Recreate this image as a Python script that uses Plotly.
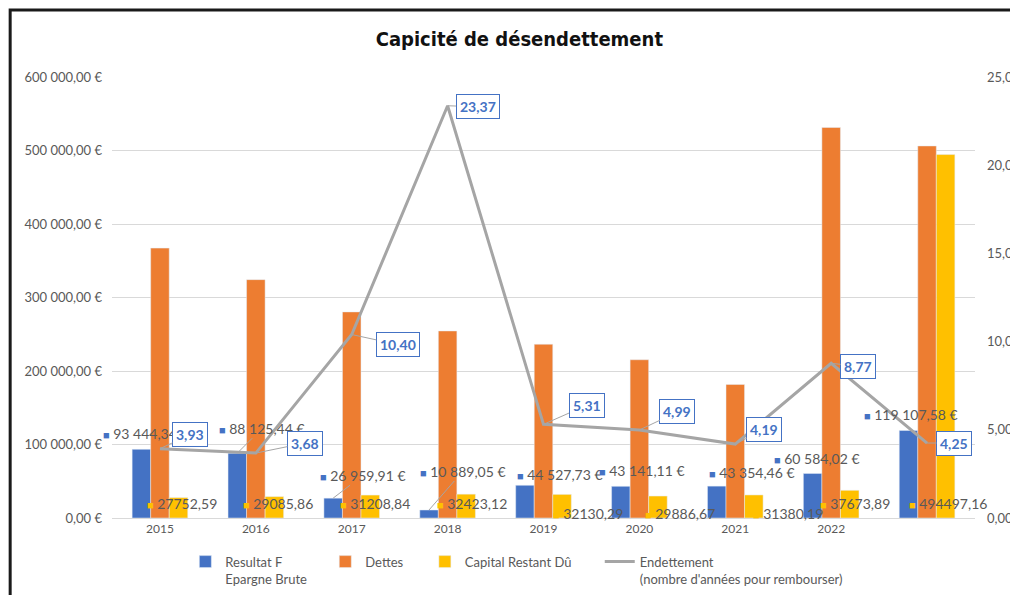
import plotly.graph_objects as go

# data
years = ["2015", "2016", "2017", "2018", "2019", "2020", "2021", "2022", ""]
epargne_brute = [93444.34, 88125.44, 26959.91, 10889.05, 44527.73, 43141.11, 43354.46, 60584.02, 119107.58]
dettes = [367200, 324300, 280400, 254500, 236400, 215300, 181700, 531300, 506200]
capital_restant = [27752.59, 29085.86, 31208.84, 32423.12, 32130.29, 29886.67, 31380.19, 37673.89, 494497.16]
endettement = [3.93, 3.68, 10.40, 23.37, 5.31, 4.99, 4.19, 8.77, 4.25]

BLUE, ORANGE, YELLOW, GREY = "#4472C4", "#ED7D31", "#FFC000", "#A5A5A5"
TXT = "#595959"
FONT = "Lato"
NB = "\u00a0"  # padding between legend entries

idx = list(range(len(years)))


def fr(v, sep=" "):
    # french style number: 93 444,34
    return f"{v:,.2f}".replace(",", "X").replace(".", ",").replace("X", sep)


fig = go.Figure()
fig.add_trace(go.Bar(x=idx, y=epargne_brute, name="Resultat F<br>Epargne Brute" + NB * 4, marker_color=BLUE))
fig.add_trace(go.Bar(x=idx, y=dettes, name="Dettes" + NB * 5, marker_color=ORANGE))
fig.add_trace(go.Bar(x=idx, y=capital_restant, name="Capital Restant Dû" + NB * 7, marker_color=YELLOW))
fig.add_trace(go.Scatter(x=idx, y=endettement, yaxis="y2", mode="lines",
                         name="Endettement<br>(nombre d'années pour rembourser)",
                         line=dict(color=GREY, width=3)))

# label offsets (pixels) -- layout only
blue_shift = [(-14, 16), (6, 25), (11, 23), (15, 39), (16, 11), (3, 16), (17, 14), (-14, 15), (-16, 16)]
blue_arrow = [None, (25, -25), (30, -23), (34, -39), None, None, None, None, None]
yel_shift = [(22, 15), (22, 15), (23, 15), (24, 15), (44, 5), (41, 5), (53, 5), (24, 15), (21, 15)]
end_shift = [(30, -14), (49, -10), (46, 10), (30, 1), (43, -19), (38, -18), (29, -15), (27, 3), (27, 0)]
BW = 18.6  # bar width in px, for anchoring on the blue bar

ann = []
for i in idx:
    blue_txt = f"<span style='color:{BLUE};font-size:11px'>■</span> {fr(epargne_brute[i])} €"
    if blue_arrow[i]:
        ann.append(dict(x=i, y=epargne_brute[i], xref="x", yref="y", showarrow=True,
                        arrowhead=0, arrowwidth=1, arrowcolor=GREY, standoff=0, xshift=-BW,
                        ax=blue_arrow[i][0], ay=blue_arrow[i][1], text=blue_txt,
                        font=dict(family=FONT, size=14, color=TXT)))
    else:
        ann.append(dict(x=i, y=epargne_brute[i], xref="x", yref="y", showarrow=False,
                        xshift=blue_shift[i][0], yshift=blue_shift[i][1], text=blue_txt,
                        font=dict(family=FONT, size=14, color=TXT)))
    ann.append(dict(x=i, y=0, xref="x", yref="y", showarrow=False,
                    xshift=yel_shift[i][0], yshift=yel_shift[i][1],
                    text=f"<span style='color:{YELLOW};font-size:11px'>■</span> {fr(capital_restant[i], '')}",
                    font=dict(family=FONT, size=14, color=TXT)))
    ann.append(dict(x=i, y=endettement[i], xref="x", yref="y2", showarrow=True,
                    arrowhead=0, arrowwidth=1, arrowcolor=GREY, standoff=0,
                    ax=end_shift[i][0], ay=end_shift[i][1],
                    text=f"<b>{endettement[i]:.2f}</b>".replace(".", ","),
                    font=dict(family=FONT, size=14, color=BLUE),
                    bgcolor="white", bordercolor=BLUE, borderwidth=1, borderpad=3))

# page body has an 8px margin, so the figure is a bit smaller than the window
fig.update_layout(
    width=1010, height=587,
    margin=dict(l=104, r=43, t=69, b=77, autoexpand=False),
    paper_bgcolor="white", plot_bgcolor="white",
    separators=", ",
    barmode="group", bargap=0.42, bargroupgap=0,
    title=dict(text="<b>Capicité de désendettement</b>", xref="paper", x=0.472, xanchor="center",
               y=0.947, yanchor="middle",
               font=dict(family="DejaVu Sans Condensed, DejaVu Sans", size=20, color="#111111")),
    xaxis=dict(tickvals=idx, ticktext=years, range=[-0.5, 8.5], showgrid=False,
               showline=True, linecolor="#D9D9D9", ticks="", automargin=False,
               tickfont=dict(family=FONT, size=12, color=TXT)),
    yaxis=dict(range=[0, 600000], dtick=100000, tickformat=",.2f", ticksuffix=" €",
               gridcolor="#D9D9D9", zeroline=False, ticks="", automargin=False,
               ticklabelstandoff=9,
               tickfont=dict(family=FONT, size=13, color=TXT)),
    yaxis2=dict(range=[0, 25], dtick=5, tickformat=".2f", overlaying="y", side="right",
                showgrid=False, zeroline=False, ticks="", automargin=False,
                ticklabelstandoff=11,
                tickfont=dict(family=FONT, size=13, color=TXT)),
    legend=dict(orientation="h", x=0.085, xanchor="left", y=-0.065, yanchor="top",
                valign="top", font=dict(family=FONT, size=13, color=TXT),
                itemwidth=30, traceorder="normal"),
    annotations=ann,
    shapes=[dict(type="rect", xref="paper", yref="paper", x0=-0.118, x1=1.2, y0=-0.4, y1=1.152,
                 line=dict(color="#1a1a1a", width=3), layer="above")],
)

fig.write_html("out.html")
